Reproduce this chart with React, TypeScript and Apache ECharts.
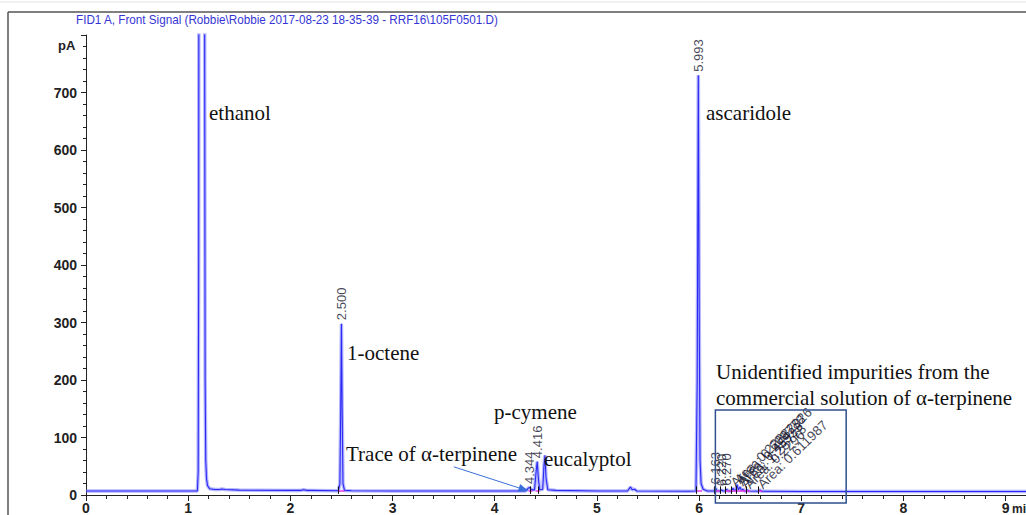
import React, { useEffect, useRef } from 'react';
import * as echarts from 'echarts';

// ---- data ----
const traceTimes = [
  0.0, 0.5, 1.0, 1.09, 1.098, 1.103, 1.106, 1.158, 1.162, 1.166, 1.172, 1.18, 1.19, 1.21, 1.26, 1.31, 1.33, 1.36,
  1.5, 2.0, 2.1, 2.13, 2.16, 2.2, 2.47, 2.485, 2.493, 2.5, 2.507, 2.515, 2.53, 2.6, 3.0, 3.5, 4.0, 4.3, 4.33, 4.344,
  4.36, 4.39, 4.405, 4.416, 4.427, 4.44, 4.47, 4.482, 4.492, 4.502, 4.52, 4.6, 5.0, 5.3, 5.33, 5.345, 5.37, 5.39,
  5.9, 5.97, 5.982, 5.993, 6.002, 6.01, 6.02, 6.04, 6.08, 6.15, 6.163, 6.175, 6.21, 6.22, 6.235, 6.26, 6.27, 6.285,
  6.32, 6.33, 6.345, 6.36, 6.372, 6.385, 6.4, 6.415, 6.43, 6.445, 6.46, 6.47, 6.485, 6.58, 6.595, 6.61, 7.0, 8.0, 9.2,
];
const traceSignals = [
  7, 7, 7, 7, 40, 400, 1400, 1400, 700, 200, 60, 28, 16, 11, 9.5, 9.5, 10.5, 9.5,
  8.5, 8, 8, 9, 8, 8, 7.5, 20, 150, 298, 150, 20, 8, 7.5, 7, 7, 7, 7, 12, 13,
  9, 9, 40, 58, 30, 9, 10, 50, 69, 30, 9, 8, 7, 7, 14, 9, 10, 7,
  6.5, 7, 200, 730, 300, 60, 20, 10, 7, 7, 12, 7, 7, 9, 7, 7, 10, 7,
  7, 12, 8, 8, 18, 9, 14, 8, 10, 7, 7, 9, 7, 6.5, 9, 6.5, 6, 6, 6,
];

const rtLabels = ['2.500', '5.993', '4.344', '4.416', '6.163', '6.220', '6.270'];
const rtTimes = [2.5, 5.993, 4.344, 4.416, 6.163, 6.22, 6.27];
const rtHeights = [298, 730, 13, 58, 12, 9, 10];

const areaLabels = [
  'Area: 0.22882926', 'Area: 0.609778', 'Area: 0.45929', 'Area: 1.25778', 'Area: 0.2296', 'Area: 0.611987',
];
const areaTimes = [6.33, 6.372, 6.4, 6.43, 6.47, 6.595];
const areaHeights = [12, 18, 14, 10, 9, 9];

const baselineStarts = [2.47, 4.33, 4.4, 5.975, 6.15, 6.26, 6.58];
const baselineEnds = [2.53, 4.37, 4.44, 6.03, 6.2, 6.5, 6.62];
const baselineLevel = 7;
const peakMarkTimes = [2.47, 4.35, 4.43, 5.975, 6.15, 6.21, 6.26, 6.32, 6.36, 6.46, 6.58];

const xTickLabels = ['0', '1', '2', '3', '4', '5', '6', '7', '8', '9'];
const yTickLabels = ['0', '100', '200', '300', '400', '500', '600', '700'];

const titleText = 'FID1 A, Front Signal (Robbie\\Robbie 2017-08-23 18-35-39 - RRF16\\105F0501.D)';
const compoundNames = ['ethanol', '1-octene', 'Trace of α-terpinene', 'p-cymene', 'eucalyptol', 'ascaridole'];
const impurityNote = ['Unidentified impurities from the', 'commercial solution of α-terpinene'];

// annotation layout (pixels)
const compoundPos = [
  [209, 113], [347, 353], [346, 454], [494, 412], [544, 459], [706, 113],
];
const notePos = [[716, 372], [716, 398]];
// box and arrow in data coordinates
const boxFrom = [6.16, 148];
const boxTo = [7.44, -14];
const arrowTail = [3.6, 49];
const arrowTip = [4.33, 7];

export default function App() {
  const ref = useRef<HTMLDivElement>(null);
  useEffect(() => {
    if (!ref.current) return;
    const chart = echarts.init(ref.current, null, { renderer: 'svg' });
    const trace = traceTimes.map((t, i) => [t, traceSignals[i]]);
    const serif = '"Liberation Serif", "Times New Roman", serif';
    const sans = '"Liberation Sans", Arial, sans-serif';

    const markData: any[] = [];
    baselineStarts.forEach((s, i) => {
      markData.push([
        { coord: [s, baselineLevel], lineStyle: { color: '#e23ce2', width: 1.5, type: 'solid' } },
        { coord: [baselineEnds[i], baselineLevel] },
      ]);
    });
    peakMarkTimes.forEach((t) => {
      markData.push([
        { coord: [t, 2], lineStyle: { color: '#111', width: 1, type: 'solid' } },
        { coord: [t, 15] },
      ]);
    });

    const labelBase = {
      show: true,
      position: 'top',
      distance: 3,
      align: 'left',
      verticalAlign: 'middle',
      fontFamily: sans,
      color: '#14142e',
      formatter: (p: any) => p.name,
    };

    chart.setOption({
      animation: false,
      grid: { left: 86, right: 0, top: 35, bottom: 20, outerBoundsMode: 'none', containLabel: false },
      xAxis: {
        type: 'value',
        min: 0,
        max: 9.2,
        interval: 1,
        axisLine: { show: true, lineStyle: { color: '#222', width: 1 } },
        axisTick: { show: true, length: 6, lineStyle: { color: '#222' } },
        minorTick: { show: true, splitNumber: 5, length: 4, lineStyle: { color: '#222' } },
        splitLine: { show: false },
        axisLabel: {
          margin: 6,
          fontFamily: sans,
          fontSize: 14,
          fontWeight: 'bold',
          color: '#222',
          showMaxLabel: false,
          formatter: (v: number) => (Number.isInteger(v) ? xTickLabels[v] ?? '' : ''),
        },
      },
      yAxis: {
        type: 'value',
        min: 0,
        max: 800,
        interval: 100,
        axisLine: { show: true, lineStyle: { color: '#222', width: 1 } },
        axisTick: { show: true, length: 5, lineStyle: { color: '#222' } },
        minorTick: { show: true, splitNumber: 5, length: 3, lineStyle: { color: '#222' } },
        splitLine: { show: false },
        axisLabel: {
          margin: 9,
          fontFamily: sans,
          fontSize: 14,
          fontWeight: 'bold',
          color: '#222',
          formatter: (v: number) => yTickLabels[Math.round(v / 100)] ?? '',
        },
      },
      series: [
        {
          type: 'line',
          data: trace,
          showSymbol: false,
          z: 2,
          lineStyle: { color: 'rgba(120,120,255,0.55)', width: 3.5 },
        },
        {
          type: 'line',
          data: trace,
          showSymbol: false,
          z: 3,
          lineStyle: { color: '#2a2af5', width: 1.1 },
          markLine: { silent: true, symbol: ['none', 'none'], label: { show: false }, data: markData },
        },
        {
          type: 'scatter',
          symbolSize: 1,
          itemStyle: { color: 'transparent' },
          z: 4,
          data: rtTimes.map((t, i) => ({ value: [t, rtHeights[i]], name: rtLabels[i] })),
          label: { ...labelBase, rotate: 90, fontSize: 13 },
        },
        {
          type: 'scatter',
          symbolSize: 1,
          itemStyle: { color: 'transparent' },
          z: 4,
          data: areaTimes.map((t, i) => ({ value: [t, areaHeights[i]], name: areaLabels[i] })),
          label: { ...labelBase, rotate: 44, fontSize: 13.5 },
        },
      ],
    });

    const px = (p: number[]) => chart.convertToPixel({ gridIndex: 0 }, p) as number[];
    const b0 = px(boxFrom);
    const b1 = px(boxTo);
    const tail = px(arrowTail);
    const tip = px(arrowTip);
    const dx = tip[0] - tail[0];
    const dy = tip[1] - tail[1];
    const len = Math.sqrt(dx * dx + dy * dy);
    const ux = dx / len;
    const uy = dy / len;
    const bx = tip[0] - ux * 10;
    const by = tip[1] - uy * 10;

    const graphics: any[] = [
      { type: 'line', shape: { x1: 0, y1: 2, x2: 1026, y2: 2 }, style: { stroke: '#e2e2e2', lineWidth: 1 } },
      { type: 'line', shape: { x1: 8, y1: 12, x2: 1026, y2: 12 }, style: { stroke: '#555', lineWidth: 1.5 } },
      { type: 'line', shape: { x1: 8, y1: 12, x2: 8, y2: 515 }, style: { stroke: '#555', lineWidth: 1.5 } },
      {
        type: 'text', x: 76, y: 20, scaleX: 0.9,
        style: { text: titleText, fill: '#3535d5', font: `13px ${sans}`, verticalAlign: 'middle' },
      },
      { type: 'text', x: 58, y: 45, style: { text: 'pA', fill: '#222', font: `bold 13px ${sans}`, verticalAlign: 'middle' } },
      { type: 'text', x: 1012, y: 503, style: { text: 'min', fill: '#222', font: `bold 12px ${sans}`, verticalAlign: 'top' } },
      {
        type: 'rect',
        shape: { x: b0[0], y: b0[1], width: b1[0] - b0[0], height: b1[1] - b0[1] },
        style: { fill: 'none', stroke: '#2f4f8f', lineWidth: 1.5 },
        z: 10,
      },
      {
        type: 'line',
        shape: { x1: tail[0], y1: tail[1], x2: bx, y2: by },
        style: { stroke: '#3a6fd8', lineWidth: 1 },
        z: 10,
      },
      {
        type: 'polygon',
        shape: { points: [[tip[0], tip[1]], [bx - uy * 4, by + ux * 4], [bx + uy * 4, by - ux * 4]] },
        style: { fill: '#3a6fd8' },
        z: 10,
      },
    ];
    compoundNames.forEach((n, i) => {
      graphics.push({
        type: 'text', x: compoundPos[i][0], y: compoundPos[i][1], z: 10,
        style: { text: n, fill: '#111', font: `21px ${serif}`, verticalAlign: 'middle' },
      });
    });
    impurityNote.forEach((n, i) => {
      graphics.push({
        type: 'text', x: notePos[i][0], y: notePos[i][1], z: 10,
        style: { text: n, fill: '#111', font: `21px ${serif}`, verticalAlign: 'middle' },
      });
    });
    chart.setOption({ graphic: graphics });

    return () => chart.dispose();
  }, []);
  return (
    <div
      ref={ref}
      style={{ position: 'fixed', left: 0, top: 0, width: 1026, height: 515, background: '#fff' }}
    />
  );
}
